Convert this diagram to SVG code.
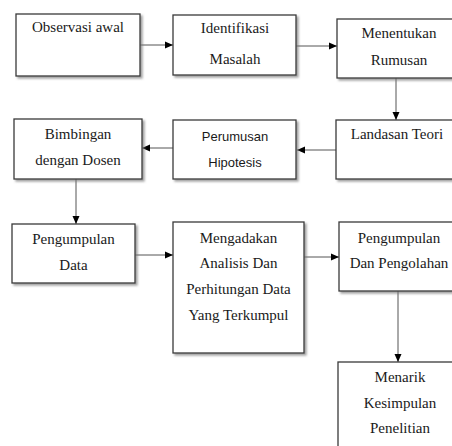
<svg xmlns="http://www.w3.org/2000/svg" width="452" height="446" viewBox="0 0 452 446">
<style>
.box{fill:#fff;stroke:#3a3a3a;stroke-width:1.3;filter:url(#sh)}
.t{font-family:"Liberation Serif",serif;font-size:15px;fill:#1a1a1a;text-anchor:middle}
.s{font-family:"Liberation Sans",sans-serif;font-size:13px;fill:#1a1a1a;text-anchor:middle}
.c{stroke:#555;stroke-width:1;fill:none;marker-end:url(#ah)}
</style>
<defs>
<filter id="sh" x="-10%" y="-10%" width="130%" height="130%">
<feDropShadow dx="2" dy="2" stdDeviation="1" flood-color="#777" flood-opacity="0.7"/>
</filter>
<marker id="ah" viewBox="0 0 8 8" refX="8" refY="4" markerWidth="8" markerHeight="8" markerUnits="userSpaceOnUse" orient="auto">
<path d="M0,0.5 L8,4 L0,7.5 Z" fill="#000"/>
</marker>
</defs>
<rect width="452" height="446" fill="#fff"/>
<g id="connectors">
<line class="c" x1="140" y1="45" x2="173" y2="45"/>
<line class="c" x1="296" y1="46" x2="337" y2="46"/>
<line class="c" x1="396" y1="78" x2="396" y2="120"/>
<line class="c" x1="336" y1="150" x2="297" y2="150"/>
<line class="c" x1="173" y1="148" x2="142" y2="148"/>
<line class="c" x1="76" y1="179" x2="76" y2="224"/>
<line class="c" x1="135" y1="255" x2="173" y2="255"/>
<line class="c" x1="304" y1="257" x2="339" y2="257"/>
<line class="c" x1="398" y1="291" x2="398" y2="362"/>
</g>
<g id="n1"><rect class="box" x="16" y="14" width="124" height="62"/><text class="t" x="78" y="32">Observasi awal</text></g>
<g id="n2"><rect class="box" x="173" y="15" width="123" height="60"/><text class="t" x="235" y="33">Identifikasi</text><text class="t" x="235" y="64">Masalah</text></g>
<g id="n3"><rect class="box" x="337" y="19" width="125" height="59"/><text class="t" x="399" y="38">Menentukan</text><text class="t" x="399" y="65">Rumusan</text></g>
<g id="n4"><rect class="box" x="336" y="120" width="126" height="59"/><text class="t" x="397" y="139">Landasan Teori</text></g>
<g id="n5"><rect class="box" x="173" y="120" width="123" height="59"/><text class="s" x="235" y="141">Perumusan</text><text class="s" x="235" y="167">Hipotesis</text></g>
<g id="n6"><rect class="box" x="14" y="119" width="128" height="60"/><text class="t" x="78" y="139">Bimbingan</text><text class="t" x="78" y="165">dengan Dosen</text></g>
<g id="n7"><rect class="box" x="12" y="224" width="123" height="59"/><text class="t" x="73.5" y="244">Pengumpulan</text><text class="t" x="73.5" y="270">Data</text></g>
<g id="n8"><rect class="box" x="173" y="222" width="131" height="131"/><text class="t" x="238.5" y="243">Mengadakan</text><text class="t" x="238.5" y="268">Analisis Dan</text><text class="t" x="238.5" y="294">Perhitungan Data</text><text class="t" x="238.5" y="320">Yang Terkumpul</text></g>
<g id="n9"><rect class="box" x="339" y="222" width="123" height="69"/><text class="t" x="399" y="243">Pengumpulan</text><text class="t" x="399" y="268">Dan Pengolahan</text></g>
<g id="n10"><rect class="box" x="338" y="362" width="124" height="100"/><text class="t" x="400" y="382">Menarik</text><text class="t" x="400" y="408">Kesimpulan</text><text class="t" x="400" y="433">Penelitian</text></g>
</svg>
